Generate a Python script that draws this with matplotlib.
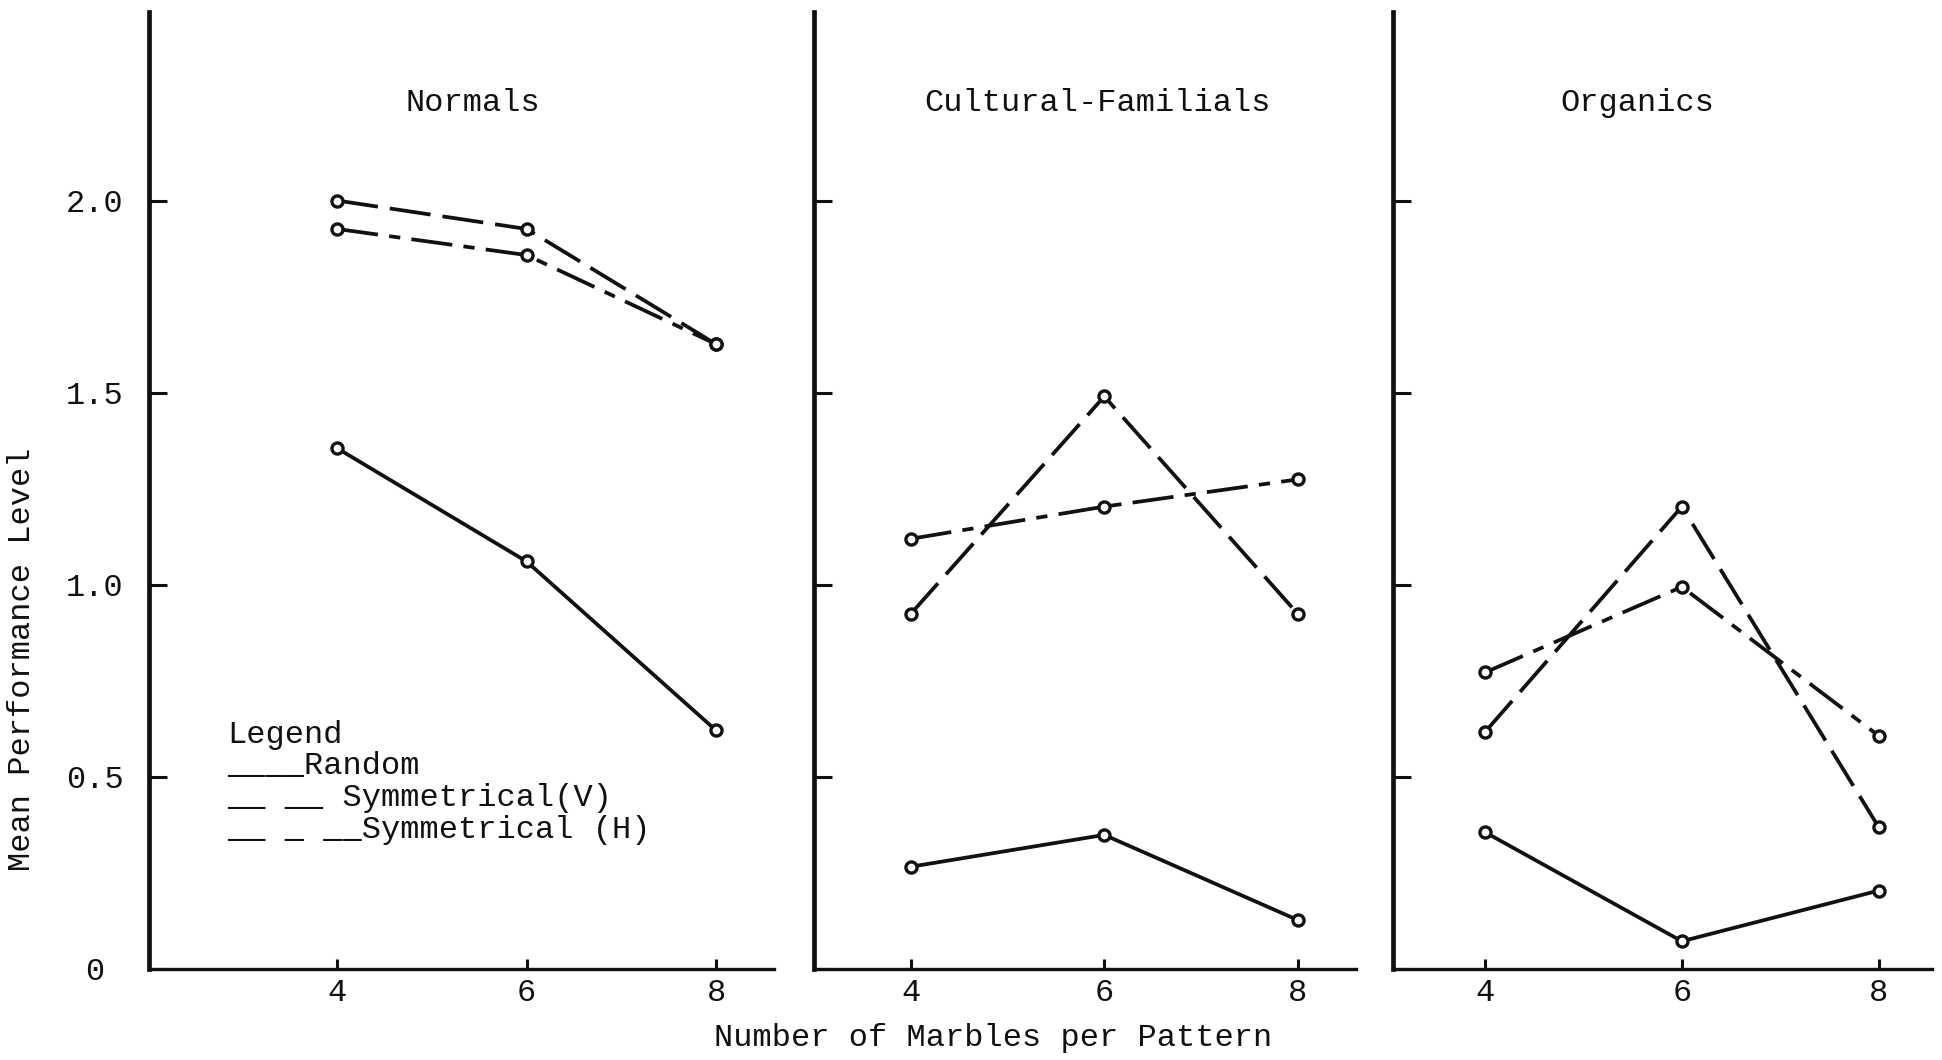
"""
Mean performance level x number of marbles per pattern
(reprodução de gráfico datilografado, três painéis)
"""

import matplotlib

matplotlib.use("Agg")
import matplotlib.pyplot as plt

plt.rcParams["font.family"] = ["Liberation Mono", "DejaVu Sans Mono"]

# ── Dados ──────────────────────────────────────────────────────────────
MARBLES = [4, 6, 8]
PAINEIS = ["Normals", "Cultural-Familials", "Organics"]

NORMALS_RANDOM = [1.355, 1.06, 0.62]
NORMALS_SYM_V = [2.0, 1.926, 1.626]
NORMALS_SYM_H = [1.926, 1.858, 1.626]

CULTURAL_RANDOM = [0.265, 0.348, 0.126]
CULTURAL_SYM_V = [0.923, 1.49, 0.923]
CULTURAL_SYM_H = [1.119, 1.203, 1.274]

ORGANICS_RANDOM = [0.355, 0.071, 0.203]
ORGANICS_SYM_V = [0.616, 1.203, 0.368]
ORGANICS_SYM_H = [0.771, 0.994, 0.606]

Y_TICKS = [0, 0.5, 1.0, 1.5, 2.0]
Y_TICK_LABELS = ["0", "0.5", "1.0", "1.5", "2.0"]
X_TICK_LABELS = ["4", "6", "8"]
SERIES = ["Random", "Symmetrical(V)", "Symmetrical (H)"]

# ── Layout ─────────────────────────────────────────────────────────────
FS = 23
COR = "#111111"
POSICOES = [
    [0.0765, 0.0863, 0.322, 0.902],
    [0.419, 0.0863, 0.2793, 0.902],
    [0.7173, 0.0863, 0.2775, 0.902],
]
XLIMS = [(2.01, 8.61), (3.0, 8.6), (3.065, 8.54)]
TITULO_X = [5.43, 5.93, 5.55]
ESTILOS = [
    dict(linestyle="-"),
    dict(dashes=(11, 3.2)),
    dict(dashes=(11, 3, 3, 3)),
]


def _painel(fig, pos, xlim, titulo, titulo_x, dados, rotulos_y):
    ax = fig.add_axes(pos)
    for valores, estilo in zip(dados, ESTILOS):
        ax.plot(MARBLES, valores, color=COR, lw=2.7, marker="o", ms=8,
                mfc="white", mec=COR, mew=2.4, **estilo)

    ax.set_xlim(*xlim)
    ax.set_ylim(0, 2.49)
    for lado in ("top", "right"):
        ax.spines[lado].set_visible(False)
    ax.spines["left"].set_linewidth(3.4)
    ax.spines["bottom"].set_linewidth(2.4)
    ax.spines["left"].set_color(COR)
    ax.spines["bottom"].set_color(COR)

    ax.set_xticks(MARBLES, X_TICK_LABELS, fontsize=FS)
    ax.set_yticks(Y_TICKS, Y_TICK_LABELS if rotulos_y else [], fontsize=FS)
    ax.tick_params(axis="y", direction="in", length=13, width=2.2, color=COR,
                   pad=38.6, labelcolor=COR)
    ax.tick_params(axis="x", direction="in", length=7, width=2.2, color=COR,
                   pad=7, labelcolor=COR)
    if rotulos_y:
        for lbl in ax.get_yticklabels():
            lbl.set_ha("center")

    ax.text(titulo_x, 2.254, titulo, ha="center", va="center", fontsize=FS, color=COR)
    return ax


fig = plt.figure(figsize=(19.42, 10.60), dpi=100)

grupos = [
    (NORMALS_RANDOM, NORMALS_SYM_V, NORMALS_SYM_H),
    (CULTURAL_RANDOM, CULTURAL_SYM_V, CULTURAL_SYM_H),
    (ORGANICS_RANDOM, ORGANICS_SYM_V, ORGANICS_SYM_H),
]
eixos = []
for i, (titulo, dados) in enumerate(zip(PAINEIS, grupos)):
    eixos.append(_painel(fig, POSICOES[i], XLIMS[i], titulo, TITULO_X[i], dados, i == 0))

# Legenda datilografada (sublinhados como amostras de linha)
ax0 = eixos[0]
amostras = ["____", "__ __ ", "__ _ __"]
ax0.text(2.836, 0.587, "Legend", fontsize=FS, color=COR, va="baseline")
for k, (amostra, nome) in enumerate(zip(amostras, SERIES)):
    ax0.text(2.836, [0.506, 0.422, 0.339][k], amostra + nome, fontsize=FS,
             color=COR, va="baseline")

fig.text(993 / 1942, 1 - 1038 / 1060, "Number of Marbles per Pattern",
         ha="center", va="center", fontsize=FS, color=COR)
fig.text(22 / 1942, 1 - 659 / 1060, "Mean Performance Level", rotation=90,
         ha="center", va="center", fontsize=FS, color=COR)

fig.savefig("out.png", dpi=100, facecolor="white")
